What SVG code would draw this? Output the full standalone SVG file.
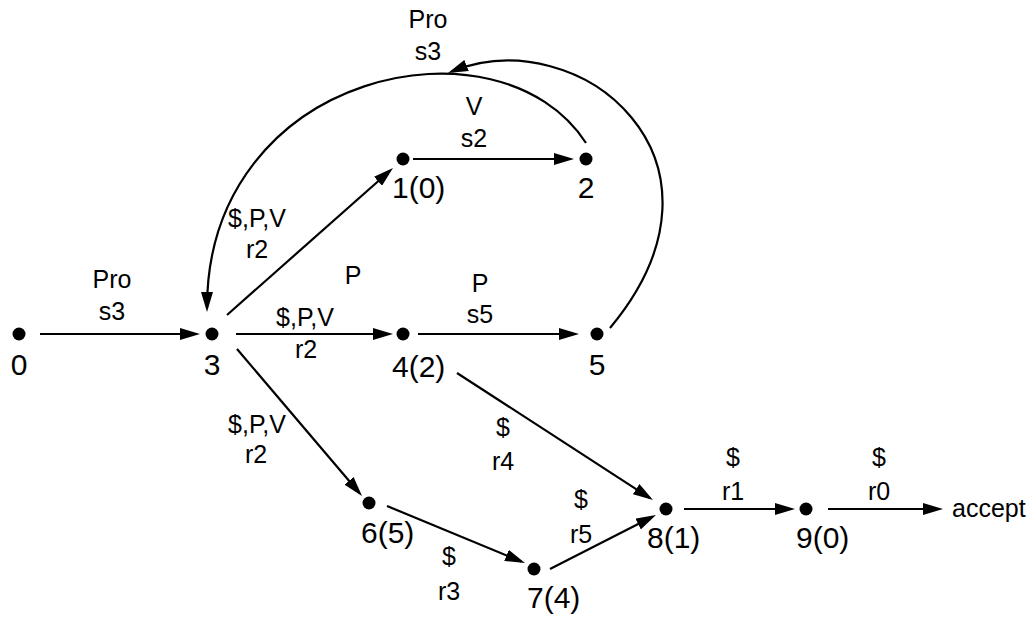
<svg xmlns="http://www.w3.org/2000/svg" width="1034" height="619" viewBox="0 0 1034 619">
<style>
.e{fill:none;stroke:#000;stroke-width:2.2;marker-end:url(#ah)}
.c{fill:none;stroke:#000;stroke-width:2.2}
.d{fill:#000}
.t{font-family:"Liberation Sans",Arial,sans-serif;font-size:25px;fill:#000;text-anchor:middle}
.n{font-family:"Liberation Sans",Arial,sans-serif;font-size:30px;fill:#000}
.m{text-anchor:middle}
</style>
<defs>
<marker id="ah" markerUnits="userSpaceOnUse" viewBox="0 0 20 12" refX="16" refY="6" markerWidth="20" markerHeight="12" orient="auto">
<path d="M0,0 L20,6 L0,12 z" fill="#000"/>
</marker>
</defs>
<rect width="1034" height="619" fill="#fff"/>
<g id="connectors">
<path class="e" d="M40,334 L196,334"/>
<path class="e" d="M236,334 L389,334"/>
<path class="e" d="M418,334 L575,334"/>
<path class="e" d="M413,159 L570,159"/>
<path class="e" d="M227,315 L390,170.7"/>
<path class="e" d="M237,349 L359.4,493"/>
<path class="e" d="M387,506 L521.3,561.5"/>
<path class="e" d="M550,569 L652.4,516.8"/>
<path class="e" d="M457,373 L649.6,497.8"/>
<path class="e" d="M684,509 L791,509"/>
<path class="e" d="M828,509 L939,509"/>
<path class="e" d="M586,143 C500,10 207,70 207,308"/>
<path class="e" d="M610,328 C750,160 580,20 451.7,71.5"/>
</g>
<g id="labels">
<text class="t" x="428" y="28">Pro</text>
<text class="t" x="428" y="60">s3</text>
<text class="t" x="474" y="115">V</text>
<text class="t" x="474" y="147">s2</text>
<text class="t" x="112" y="288">Pro</text>
<text class="t" x="112" y="320">s3</text>
<text class="t" x="257" y="227">$,P,V</text>
<text class="t" x="257" y="258">r2</text>
<text class="t" x="353" y="284">P</text>
<text class="t" x="305" y="326">$,P,V</text>
<text class="t" x="306" y="358">r2</text>
<text class="t" x="480" y="292">P</text>
<text class="t" x="480" y="323">s5</text>
<text class="t" x="257" y="433">$,P,V</text>
<text class="t" x="256" y="463">r2</text>
<text class="t" x="503" y="436">$</text>
<text class="t" x="503" y="470">r4</text>
<text class="t" x="581" y="508">$</text>
<text class="t" x="581" y="543">r5</text>
<text class="t" x="449" y="565">$</text>
<text class="t" x="449" y="600">r3</text>
<text class="t" x="733" y="466">$</text>
<text class="t" x="733" y="500">r1</text>
<text class="t" x="879" y="466">$</text>
<text class="t" x="879" y="500">r0</text>
</g>
<g id="node0"><circle class="d" cx="19" cy="334" r="6.5"/><text class="n m" x="19" y="375">0</text></g>
<g id="node3"><circle class="d" cx="212" cy="334" r="6.5"/><text class="n m" x="212" y="375">3</text></g>
<g id="node1"><circle class="d" cx="403" cy="159" r="6.5"/><text class="n" x="392" y="198">1(0)</text></g>
<g id="node2"><circle class="d" cx="586" cy="159" r="6.5"/><text class="n m" x="586" y="198">2</text></g>
<g id="node4"><circle class="d" cx="403" cy="334" r="6.5"/><text class="n" x="392" y="377">4(2)</text></g>
<g id="node5"><circle class="d" cx="597" cy="334" r="6.5"/><text class="n m" x="597" y="375">5</text></g>
<g id="node6"><circle class="d" cx="369" cy="503" r="6.5"/><text class="n" x="361" y="543">6(5)</text></g>
<g id="node7"><circle class="d" cx="534" cy="569" r="6.5"/><text class="n" x="527" y="608">7(4)</text></g>
<g id="node8"><circle class="d" cx="666" cy="509" r="6.5"/><text class="n" x="647" y="548">8(1)</text></g>
<g id="node9"><circle class="d" cx="806" cy="509" r="6.5"/><text class="n" x="796" y="548">9(0)</text></g>
<g id="accept"><text class="t" x="952" y="517" style="text-anchor:start">accept</text></g>
</svg>
